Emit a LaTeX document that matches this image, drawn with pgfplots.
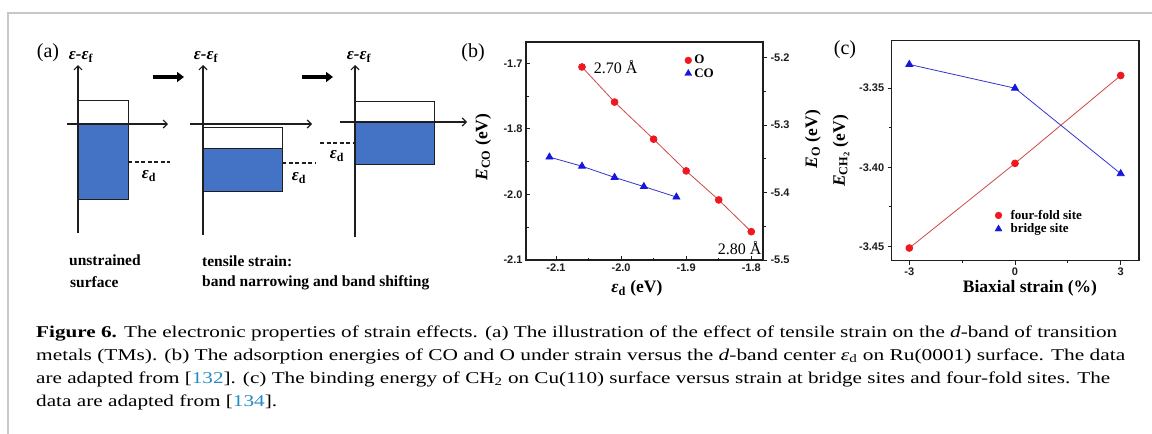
\documentclass[border=0pt]{standalone}
\usepackage{fontspec}
\setmainfont{Liberation Serif}
\setsansfont{Liberation Sans}
\usepackage{graphicx}
\usepackage{pgfplots}
\usepackage{pgfplotstable}
\pgfplotsset{compat=1.18}
\usetikzlibrary{arrows.meta}

\definecolor{bandblue}{RGB}{68,114,196}
\definecolor{citeblue}{RGB}{38,139,196}
\definecolor{framegray}{RGB}{200,200,200}
\definecolor{mkred}{RGB}{240,24,32}
\definecolor{lnred}{RGB}{205,72,72}
\definecolor{mkblue}{RGB}{22,22,220}
\definecolor{lnblue}{RGB}{52,52,205}
\definecolor{inkgray}{RGB}{30,30,30}

\newcommand{\fs}[1]{\fontsize{#1}{#1}\selectfont}

% (b) adsorption energies versus d-band centre on Ru(0001)
\pgfplotstableread{
ed     EO
-2.06  -5.214
-2.01  -5.266
-1.95  -5.321
-1.90  -5.368
-1.85  -5.411
-1.80  -5.458
}\dataO
\pgfplotstableread{
ed     ECO
-2.11  -1.843
-2.06  -1.857
-2.01  -1.874
-1.965 -1.888
-1.915 -1.904
}\dataCO
% (c) CH2 binding energy on Cu(110) versus biaxial strain
\pgfplotstableread{
strain  four  bridge
-3      -3.451 -3.335
 0      -3.3975 -3.350
 3      -3.342 -3.404
}\dataCH

\pgfplotsset{
  legend gap/.initial=5pt,
  panel/.style={
    scale only axis,
    axis line style={line width=1.1pt, inkgray},
    every tick/.style={line width=0.9pt, inkgray},
    major tick length=4pt, minor tick length=2.5pt,
    ticklabel style={font=\fs{11}\sffamily\bfseries, inkgray},
    label style={font=\fs{17.5}\bfseries},
    legend style={draw=none, fill=none, font=\fs{13}\bfseries,
      legend cell align=left, inner sep=0pt, row sep=-1pt},
    legend image code/.code={%
      \draw[##1] plot coordinates {(0pt,0pt)};
      \path[draw=none, fill=none] (-4pt,0pt) -- (\pgfkeysvalueof{/pgfplots/legend gap},0pt);},
  },
  redmk/.style={only marks, mark=*, mark size=3.4pt, mark options={draw=mkred, fill=mkred}},
  bluemk/.style={only marks, mark=triangle*, mark size=4pt, mark options={draw=mkblue, fill=mkblue}},
}

\begin{document}
\begin{tikzpicture}
\fill[white] (0pt,0pt) rectangle (1152pt,-434pt);
\useasboundingbox (0pt,0pt) rectangle (1152pt,-434pt);

\begin{scope}[x=1pt, y=-1pt]
  % page frame
  \draw[framegray, line width=1.5pt] (8,434) -- (8,13) -- (1152,13);

  % ---------- (a) schematic of the d band ----------
  \node[anchor=center, font=\fs{20}] at (48,53) {(a)};
  \tikzset{
    band/.style={draw=inkgray, line width=0.8pt},
    eaxis/.style={inkgray, line width=1.2pt, -{Straight Barb[length=4pt,width=8pt]}},
    shift arrow/.style={black, line width=3.4pt, -{Triangle[length=7pt,width=10pt]}},
    level/.style={inkgray, line width=1.1pt, dash pattern=on 4pt off 2.5pt},
    elab/.style={font=\fs{17}\bfseries\itshape, inner sep=0pt},
  }
  % unstrained
  \draw[band, fill=white] (78,100) rectangle (128,124);
  \draw[band, fill=bandblue] (78,124) rectangle (128,199);
  \draw[eaxis] (78,233) -- (78,65);
  \draw[eaxis] (67,124) -- (168,124);
  \draw[level] (128,162) -- (170,162);
  \node[elab] at (81,57) {ε-ε\textsubscript{\upshape f}};
  \node[elab] at (149,176) {ε\textsubscript{\upshape d}};
  \draw[shift arrow] (153,77) -- (184,77);
  % narrowed band
  \draw[band, fill=white] (203,127) rectangle (282,148);
  \draw[band, fill=bandblue] (203,148) rectangle (282,191);
  \draw[eaxis] (203,235) -- (203,65);
  \draw[eaxis] (190,124) -- (312,124);
  \draw[level] (282,163) -- (315,163);
  \node[elab] at (206,57) {ε-ε\textsubscript{\upshape f}};
  \node[elab] at (299,178) {ε\textsubscript{\upshape d}};
  \draw[shift arrow] (302,77) -- (333,77);
  % shifted band
  \draw[band, fill=white] (355,101) rectangle (434,122);
  \draw[band, fill=bandblue] (355,122) rectangle (434,164);
  \draw[eaxis] (355,237) -- (355,65);
  \draw[eaxis] (340,122) -- (467,122);
  \draw[level] (320,143) -- (355,143);
  \node[elab] at (359,57) {ε-ε\textsubscript{\upshape f}};
  \node[elab] at (337,156) {ε\textsubscript{\upshape d}};
  % captions under the schematic
  \node[anchor=base west, inner sep=0pt, font=\fs{15.5}\bfseries] at (69,265) {unstrained};
  \node[anchor=base west, inner sep=0pt, font=\fs{15.5}\bfseries] at (70,287) {surface};
  \node[anchor=base west, inner sep=0pt, font=\fs{15.5}\bfseries] at (202,266) {tensile strain:};
  \node[anchor=base west, inner sep=0pt, font=\fs{15.5}\bfseries] at (202,286) {band narrowing and band shifting};

  % panel letters
  \node[anchor=center, font=\fs{20}] at (473,53) {(b)};
  \node[anchor=center, font=\fs{20}] at (845,50) {(c)};

  % figure caption
  \begin{scope}[every node/.style={anchor=base west, inner sep=0pt, font=\fs{16.5}}]
  \node at (36,337) {\resizebox{1081pt}{\height}{\textbf{Figure 6.} The electronic properties of strain effects. (a) The illustration of the effect of tensile strain on the \textit{d}-band of transition}};
  \node at (36,360) {\resizebox{1089pt}{\height}{metals (TMs). (b) The adsorption energies of CO and O under strain versus the \textit{d}-band center \textit{ε}\textsubscript{d} on Ru(0001) surface. The data}};
  \node at (36,383) {\resizebox{1074pt}{\height}{are adapted from [\textcolor{citeblue}{132}]. (c) The binding energy of CH\textsubscript{2} on Cu(110) surface versus strain at bridge sites and four-fold sites. The}};
  \node at (36,406) {\resizebox{241pt}{\height}{data are adapted from [\textcolor{citeblue}{134}].}};
  \end{scope}
\end{scope}

% ---------- (b) left axis: CO ----------
\begin{axis}[panel,
  at={(526pt,-260pt)}, anchor=south west, width=237pt, height=218pt,
  xmin=-2.146, xmax=-1.782, ymin=-2.0, ymax=-1.6675,
  xtick={-2.1,-2.0,-1.9,-1.8}, xticklabels={-2.1,-2.0,-1.9,-1.8},
  ytick={-2.0,-1.9,-1.8,-1.7}, yticklabels={-2.1,-2.0,-1.8,-1.7},
  minor x tick num=1, minor y tick num=1,
  xtick pos=bottom, ytick pos=left, tick align=inside,
  xlabel={\textit{ε}\textsubscript{d} (eV)},
  ylabel={\textit{E}\textsubscript{CO} (eV)},
  xlabel style={at={(axis description cs:0.468,-0.13)}, anchor=center},
  ylabel style={at={(axis description cs:-0.181,0.518)}, anchor=center},
]
\addplot[lnblue, line width=0.8pt, mark=triangle*, mark size=4pt,
  mark options={solid, draw=mkblue, fill=mkblue}] table[x=ed, y=ECO] {\dataCO};
\end{axis}

% ---------- (b) right axis: O ----------
\begin{axis}[panel,
  at={(526pt,-260pt)}, anchor=south west, width=237pt, height=218pt,
  xmin=-2.146, xmax=-1.782, ymin=-5.5, ymax=-5.177,
  axis x line=none, axis y line*=right,
  ytick={-5.5,-5.4,-5.3,-5.2}, yticklabels={-5.5,-5.4,-5.3,-5.2},
  minor y tick num=1, tick align=outside,
  ylabel={\textit{E}\textsubscript{O} (eV)},
  every axis y label/.style={at={(axis description cs:1.211,0.555)}, anchor=center,
    rotate=90, font=\fs{17.5}\bfseries},
  legend gap=4pt,
  legend style={at={(axis description cs:0.667,0.949)}, anchor=north west},
]
\addplot[lnred, line width=0.8pt, mark=*, mark size=3.4pt,
  mark options={solid, draw=mkred, fill=mkred}, forget plot] table[x=ed, y=EO] {\dataO};
\node[anchor=west, font=\fs{16}, inner sep=0pt] at (axis cs:-2.042,-5.2135) {2.70 Å};
\node[anchor=east, font=\fs{16}, inner sep=0pt] at (axis cs:-1.784,-5.483) {2.80 Å};
\addlegendimage{redmk}\addlegendentry{O}
\addlegendimage{bluemk}\addlegendentry{CO}
\end{axis}

% ---------- (c) ----------
\begin{axis}[panel,
  at={(891.7pt,-260.7pt)}, anchor=south west, width=247.3pt, height=220pt,
  xmin=-3.5, xmax=3.52, ymin=-3.459, ymax=-3.320,
  xtick={-3,0,3}, xticklabels={-3,0,3},
  ytick={-3.45,-3.40,-3.35}, yticklabels={-3.45,-3.40,-3.35},
  minor x tick num=1, minor y tick num=1,
  xtick pos=bottom, ytick pos=left, tick align=outside,
  xlabel={Biaxial strain (\%)},
  ylabel={\textit{E}\textsubscript{CH\textsubscript{2}} (eV)},
  xlabel style={at={(axis description cs:0.559,-0.124)}, anchor=center},
  ylabel style={at={(axis description cs:-0.205,0.499)}, anchor=center},
  legend gap=10pt,
  legend style={at={(axis description cs:0.415,0.24)}, anchor=north west},
]
\addplot[lnred, line width=0.8pt, mark=*, mark size=3.4pt,
  mark options={solid, draw=mkred, fill=mkred}, forget plot] table[x=strain, y=four] {\dataCH};
\addplot[lnblue, line width=0.8pt, mark=triangle*, mark size=4pt,
  mark options={solid, draw=mkblue, fill=mkblue}, forget plot] table[x=strain, y=bridge] {\dataCH};
\addlegendimage{redmk}\addlegendentry{four-fold site}
\addlegendimage{bluemk}\addlegendentry{bridge site}
\end{axis}
\end{tikzpicture}
\end{document}
